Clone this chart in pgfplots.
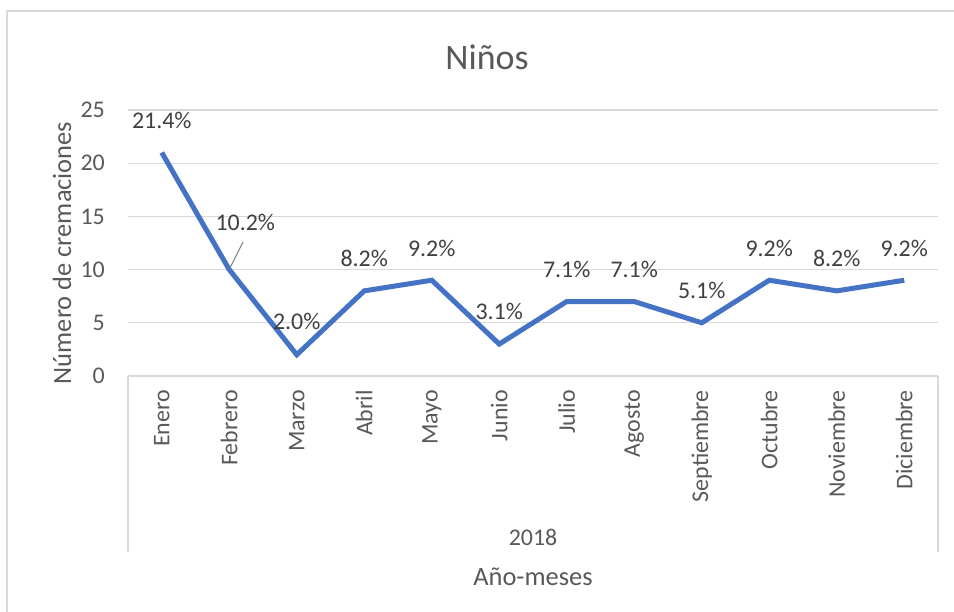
\documentclass[border=0pt]{standalone}
\usepackage{fontspec}
\setmainfont{Carlito}
\usepackage{pgfplots}
\usepackage{pgfplotstable}
\pgfplotsset{compat=1.18}
\definecolor{exblue}{HTML}{4472C4}
\definecolor{gridgray}{HTML}{D9D9D9}
\definecolor{txtgray}{HTML}{595959}
\definecolor{lblgray}{HTML}{404040}
\pgfplotstableread{
x y lab dx dy
0 21 21.4\% 0 32
1 10 10.2\% 16 47
2 2 2.0\% 0 33
3 8 8.2\% 0 32
4 9 9.2\% 0 32
5 3 3.1\% 0 33
6 7 7.1\% 0 32
7 7 7.1\% 0 32
8 5 5.1\% 0 32
9 9 9.2\% 0 32
10 8 8.2\% 0 32
11 9 9.2\% 0 32
}\datatable
\begin{document}
\begin{tikzpicture}[x=1bp,y=1bp]
\useasboundingbox (0,0) rectangle (954,612);
\fill[white] (0,0) rectangle (954,612);
\draw[gridgray, line width=1.5bp] (7,0) -- (7,601) -- (954,601);
\begin{axis}[
  at={(128bp,236bp)}, anchor=south west,
  width=810bp, height=266bp, scale only axis,
  xmin=-0.5, xmax=11.5, ymin=0, ymax=25,
  axis line style={draw=none},
  axis x line*=bottom,
  xtick={0,...,11},
  xticklabels={Enero,Febrero,Marzo,Abril,Mayo,Junio,Julio,Agosto,Septiembre,Octubre,Noviembre,Diciembre},
  xtick style={draw=none}, ytick style={draw=none},
  ytick={0,5,10,15,20,25},
  ymajorgrids, major grid style={gridgray, line width=1.3bp},
  xticklabel style={rotate=90, anchor=east, inner sep=0pt, font=\fontsize{24}{28}\selectfont, text=txtgray},
  xticklabel shift=14bp,
  yticklabel style={anchor=east, inner sep=0pt, font=\fontsize{24}{28}\selectfont, text=txtgray},
  yticklabel shift=23bp,
  /pgf/number format/assume math mode=true,
  clip=false,
]
\addplot[exblue, line width=5bp, mark=none,
  nodes near coords,
  point meta=explicit symbolic,
  visualization depends on={\thisrow{dx}\as\dx},
  visualization depends on={\thisrow{dy}\as\dy},
  nodes near coords style={anchor=center, inner sep=0pt, xshift=\dx bp, yshift=\dy bp, text=lblgray, font=\fontsize{24}{28}\selectfont},
] table[x=x, y=y, meta=lab] {\datatable};
\addplot[gray, line width=1bp, mark=none] coordinates {(1.204,12.59) (1.011,10.15)};
\end{axis}
\draw[gridgray, line width=1.5bp] (128,236) -- (938,236);
\draw[gridgray, line width=1.5bp] (128,236) -- (128,60);
\draw[gridgray, line width=1.5bp] (938,236) -- (938,60);
\node[text=txtgray, font=\fontsize{36}{42}\selectfont] at (487,555) {Niños};
\node[text=txtgray, font=\fontsize{26.5}{32}\selectfont, rotate=90] at (62,359) {Número de cremaciones};
\node[text=txtgray, font=\fontsize{24}{28}\selectfont] at (533,75) {2018};
\node[text=txtgray, font=\fontsize{26.5}{32}\selectfont] at (533,35) {Año-meses};
\end{tikzpicture}
\end{document}
